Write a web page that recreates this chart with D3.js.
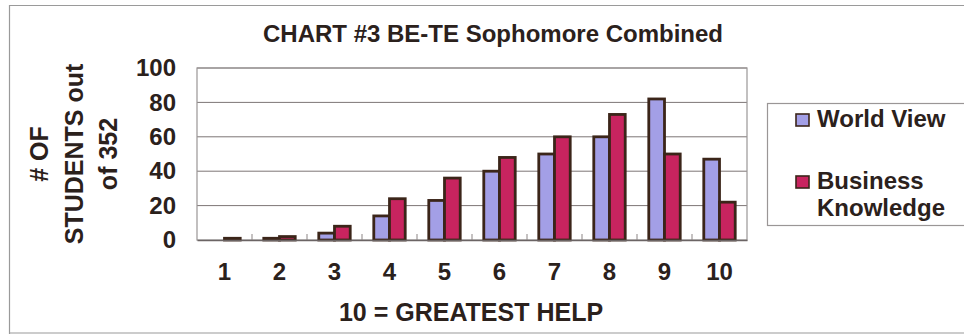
<!DOCTYPE html>
<html>
<head>
<meta charset="utf-8">
<script src="https://cdn.jsdelivr.net/npm/d3@7"></script>
<style>
  html, body { margin: 0; padding: 0; background: #fff; }
  svg { display: block; font-family: "Liberation Sans", Arial, sans-serif; font-weight: bold; }
</style>
</head>
<body>
<svg id="chart" width="964" height="334"></svg>
<script>
// Ratings 1..10, students answering each rating
const categories = ["1", "2", "3", "4", "5", "6", "7", "8", "9", "10"];
const seriesNames = ["World View", "Business Knowledge"];
const worldView = [0, 1, 4, 14, 23, 40, 50, 60, 82, 47];
const businessKnowledge = [1, 2, 8, 24, 36, 48, 60, 73, 50, 22];
const yTicks = [0, 20, 40, 60, 80, 100];
const colors = ["#a39fe6", "#c8245f"];

const svg = d3.select("#chart");
const ink = "#2b211c";

// outer frame of the chart sheet
svg.append("path")
  .attr("d", "M9.5,334 L9.5,5.5 L964,5.5 M9.5,333 L964,333")
  .attr("fill", "none").attr("stroke", "#9a9a9a").attr("stroke-width", 1.2);

const plot = { left: 197, right: 747, top: 68, bottom: 240 };

const x0 = d3.scaleBand().domain(categories).range([plot.left, plot.right]).padding(0);
const x1 = d3.scaleBand().domain(seriesNames).range([0, x0.bandwidth()])
  .paddingInner(0).paddingOuter(0.75);
const y = d3.scaleLinear().domain([0, 100]).range([plot.bottom, plot.top]);

// gridlines
svg.append("g").selectAll("line").data(yTicks.slice(1)).join("line")
  .attr("x1", plot.left).attr("x2", plot.right)
  .attr("y1", d => y(d)).attr("y2", d => y(d))
  .attr("stroke", "#7d7676").attr("stroke-width", 1);

// plot area border
svg.append("rect")
  .attr("x", plot.left).attr("y", plot.top)
  .attr("width", plot.right - plot.left).attr("height", plot.bottom - plot.top)
  .attr("fill", "none").attr("stroke", "#9a9696").attr("stroke-width", 1.2);

// bars
const rows = categories.map((c, i) => ({ cat: c, vals: [worldView[i], businessKnowledge[i]] }));
const groups = svg.append("g").selectAll("g").data(rows).join("g")
  .attr("transform", d => `translate(${x0(d.cat)},0)`);
groups.selectAll("rect")
  .data(d => d.vals.map((v, k) => ({ name: seriesNames[k], v, k })).filter(e => e.v > 0))
  .join("rect")
  .attr("x", e => x1(e.name))
  .attr("width", x1.bandwidth())
  .attr("y", e => y(e.v))
  .attr("height", e => y(0) - y(e.v))
  .attr("fill", e => colors[e.k])
  .attr("stroke", "#3b2519").attr("stroke-width", 2.8);

// x axis line and inside tick marks at category boundaries
const xAxis = d3.axisBottom(x0).tickSize(0).tickPadding(23);
const xg = svg.append("g").attr("transform", `translate(0,${plot.bottom})`).call(xAxis);
xg.select(".domain").attr("stroke", "#6b6464").attr("stroke-width", 1.5);
xg.selectAll("text").attr("font-size", 24).attr("fill", ink)
  .attr("font-family", "Liberation Sans, Arial, sans-serif").attr("font-weight", "bold")
  .attr("dy", "0.71em");
svg.append("g").selectAll("line").data(categories.slice(1)).join("line")
  .attr("x1", d => x0(d)).attr("x2", d => x0(d))
  .attr("y1", plot.bottom).attr("y2", plot.bottom - 6)
  .attr("stroke", "#8c8585").attr("stroke-width", 1);

// y axis labels
const yAxis = d3.axisLeft(y).tickValues(yTicks).tickSize(0).tickPadding(21);
const yg = svg.append("g").attr("transform", `translate(${plot.left},0)`).call(yAxis);
yg.select(".domain").remove();
yg.selectAll("text").attr("font-size", 24).attr("fill", ink)
  .attr("font-family", "Liberation Sans, Arial, sans-serif").attr("font-weight", "bold");

// title
svg.append("text").attr("x", 493).attr("y", 42).attr("text-anchor", "middle")
  .attr("font-size", 24).attr("fill", ink).text("CHART #3 BE-TE Sophomore Combined");

// x axis title
svg.append("text").attr("x", 471).attr("y", 321).attr("text-anchor", "middle")
  .attr("font-size", 25).attr("fill", ink).text("10 = GREATEST HELP");

// y axis title, three centred lines
const yTitleLines = ["# OF", "STUDENTS out", "of 352"];
const yTitle = svg.append("text")
  .attr("transform", "translate(0,154) rotate(-90)")
  .attr("text-anchor", "middle").attr("font-size", 25).attr("fill", ink);
yTitleLines.forEach((t, i) => {
  yTitle.append("tspan").attr("x", 0).attr("y", 48 + i * 34.5).text(t);
});

// legend
svg.append("rect").attr("x", 767.5).attr("y", 103.5).attr("width", 220).attr("height", 122)
  .attr("fill", "#fff").attr("stroke", "#9a9696").attr("stroke-width", 1.2);
const legendRows = [
  { lines: ["World View"], y: 127 },
  { lines: ["Business", "Knowledge"], y: 189 }
];
legendRows.forEach((r, k) => {
  svg.append("rect").attr("x", 796).attr("y", r.y - 13).attr("width", 13).attr("height", 12)
    .attr("fill", colors[k]).attr("stroke", "#3b2519").attr("stroke-width", 1.6);
  const t = svg.append("text").attr("font-size", 24).attr("fill", ink);
  r.lines.forEach((l, i) => t.append("tspan").attr("x", 817).attr("y", r.y + i * 27).text(l));
});
</script>
</body>
</html>
